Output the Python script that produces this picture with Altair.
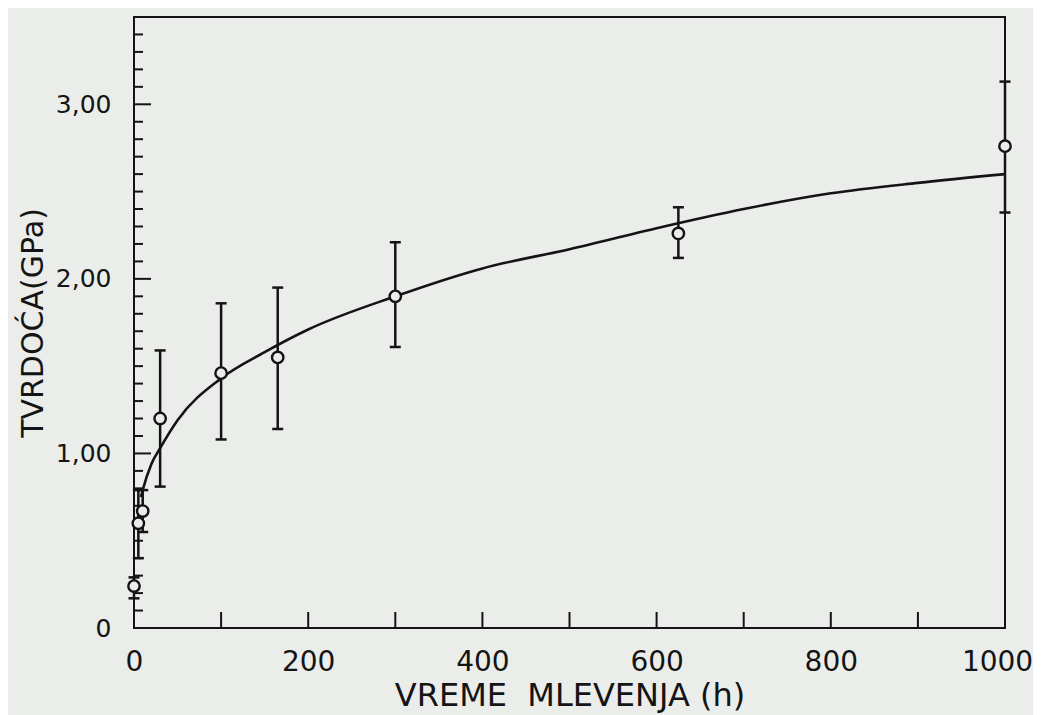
import altair as alt
import pandas as pd

# ---- data ----
time_h = [0, 5, 10, 30, 100, 165, 300, 625, 1000]
hardness = [0.24, 0.60, 0.67, 1.20, 1.46, 1.55, 1.90, 2.26, 2.76]
err_low = [0.17, 0.40, 0.55, 0.81, 1.08, 1.14, 1.61, 2.12, 2.38]
err_high = [0.29, 0.79, 0.79, 1.59, 1.86, 1.95, 2.21, 2.41, 3.13]

fit_time = [8, 10, 20, 30, 50, 100, 150, 200, 300, 400, 500, 600, 700, 800, 900, 1000]
fit_hardness = [0.75, 0.79, 0.94, 1.03, 1.19, 1.43, 1.58, 1.71, 1.90, 2.06, 2.17, 2.29, 2.40, 2.49, 2.55, 2.60]

x_label_values = [0, 200, 400, 600, 800, 1000]
x_tick_values = [100, 200, 300, 400, 500, 600, 700, 800, 900]
y_label_values = [0, 1, 2, 3]
y_major_ticks = [1, 2, 3]
y_minor_ticks = [round(0.1 * i, 1) for i in range(1, 35) if i % 10 != 0]

X_TITLE = "VREME\u00a0\u00a0MLEVENJA (h)"
Y_TITLE = "TVRDOĆA(GPa)"

# ---- styling ----
BG = "#ebedea"
INK = "#141414"
FONT = "DejaVu Sans"
W, H = 871, 611

pts = pd.DataFrame({"t": time_h, "h": hardness, "lo": err_low, "hi": err_high})
fit = pd.DataFrame({"t": fit_time, "h": fit_hardness})
xt = pd.DataFrame({"t": x_tick_values})
ymin = pd.DataFrame({"h": y_minor_ticks})
ymaj = pd.DataFrame({"h": y_major_ticks})

xs = alt.Scale(domain=[0, 1000], nice=False, zero=False)
ys = alt.Scale(domain=[0, 3.5], nice=False, zero=False)

x_axis = alt.Axis(
    values=x_label_values, format="d", labelFontSize=28, labelPadding=20, labelFont=FONT,
    labelColor=INK, titleFont=FONT, titleFontSize=32,
    labelOffset={"condition": {"test": "datum.value == 1000", "value": -8}, "value": 0},
    titleFontWeight="normal", titleColor=INK, titleX=W / 2, titleY=77,
    titleBaseline="alphabetic", titleAlign="center", labelFlush=False,
    domain=False, ticks=False, grid=False,
)
y_axis = alt.Axis(
    values=y_label_values, labelFontSize=25, labelPadding=23, labelFont=FONT,
    labelColor=INK, titleFont=FONT, titleFontSize=30,
    titleFontWeight="normal", titleColor=INK, titleX=-92, titleY=H / 2,
    titleAngle=270, titleBaseline="alphabetic", titleAlign="center",
    labelExpr="datum.value == 0 ? '0' : replace(format(datum.value, '.2f'), '.', ',')",
    labelFlush=False, domain=False, ticks=False, grid=False,
)

X = alt.X("t:Q", scale=xs, axis=x_axis, title=X_TITLE)
Y = alt.Y("h:Q", scale=ys, axis=y_axis, title=Y_TITLE)

curve = alt.Chart(fit).mark_line(interpolate="monotone", color=INK, strokeWidth=2.6).encode(x=X, y=Y)

y_minor = alt.Chart(ymin).mark_rule(color=INK, strokeWidth=2).encode(
    y=Y, x=alt.value(0), x2=alt.value(9)
)
y_major = alt.Chart(ymaj).mark_rule(color=INK, strokeWidth=2).encode(
    y=Y, x=alt.value(0), x2=alt.value(17)
)
x_ticks = alt.Chart(xt).mark_rule(color=INK, strokeWidth=2).encode(
    x=X, y=alt.value(H), y2=alt.value(H - 16)
)

Ylo = alt.Y("lo:Q", scale=ys, axis=y_axis, title=Y_TITLE)
Yhi = alt.Y("hi:Q", scale=ys, axis=y_axis, title=Y_TITLE)

bars = alt.Chart(pts).mark_rule(color=INK, strokeWidth=2.5).encode(x=X, y=Ylo, y2="hi:Q")
cap_lo = alt.Chart(pts).mark_tick(orient="horizontal", size=11, thickness=2.5, color=INK, opacity=1).encode(
    x=X, y=Ylo
)
cap_hi = alt.Chart(pts).mark_tick(orient="horizontal", size=11, thickness=2.5, color=INK, opacity=1).encode(
    x=X, y=Yhi
)
points = alt.Chart(pts).mark_point(
    shape="circle", filled=True, fill=BG, stroke=INK, strokeWidth=2.4, size=130, opacity=1
).encode(x=X, y=Y)

chart = (
    alt.layer(curve, y_minor, y_major, x_ticks, bars, cap_lo, cap_hi, points)
    .properties(
        width=W, height=H, background=BG,
        autosize=alt.AutoSizeParams(type="none"),
        padding={"left": 126, "top": 9, "right": 28, "bottom": 90},
    )
    .configure_view(stroke=INK, strokeWidth=2)
)

chart.save("out.html", embed_options={"renderer": "svg", "actions": False})
